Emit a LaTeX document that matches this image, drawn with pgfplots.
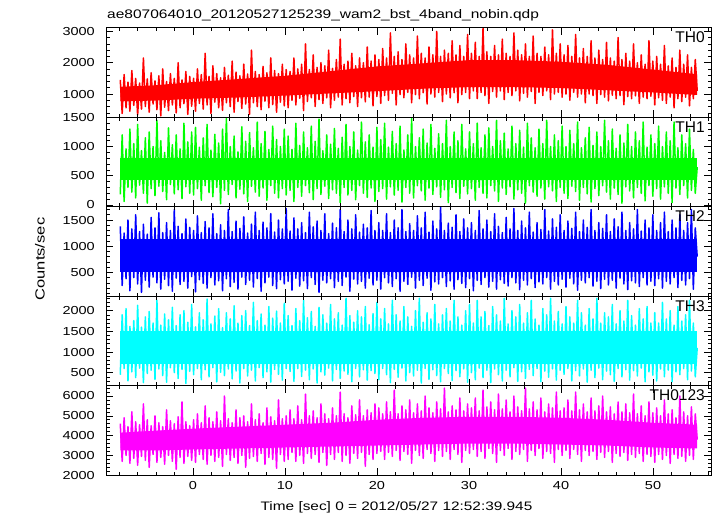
\documentclass[border=0pt]{standalone}
\usepackage{pgfplots}
\usepackage{pgfplotstable}
\pgfplotsset{compat=1.18}
\usepackage{fontspec}
\setmainfont{Liberation Sans}[FakeStretch=1.25]
\newfontfamily\lblfont{Liberation Sans}
\definecolor{cR}{RGB}{255,0,0}
\definecolor{cG}{RGB}{0,255,0}
\definecolor{cB}{RGB}{0,0,255}
\definecolor{cC}{RGB}{0,255,255}
\definecolor{cM}{RGB}{255,0,255}

% light curves (counts/sec), one row per time bin
\pgfplotstableread{
a b c d e
1450 180 1380 450 4600
380 1200 250 1900 2700
1620 60 1250 600 4900
560 960 380 2050 3000
1380 300 1500 300 4450
450 1300 150 1620 2600
1750 220 1330 520 5200
640 1050 400 1760 2850
1500 120 1600 380 4700
330 1380 280 2130 2500
1350 340 1280 610 4550
520 930 120 1600 2950
2150 200 1420 260 5600
600 1150 350 1850 2750
1480 30 1230 480 4800
420 1250 220 1980 2400
1680 280 1550 560 4500
680 1000 410 1700 3050
1420 160 1350 340 5000
500 1450 300 2250 2650
1580 320 1640 590 4650
300 1100 180 1650 2900
1800 230 1260 430 4450
580 900 370 1920 2550
1400 90 1450 270 5300
470 1320 250 1780 3000
1650 350 1300 620 4750
650 1030 140 2080 2700
1500 190 1700 500 4600
400 1200 390 1640 2300
2000 260 1380 360 4950
560 960 270 1900 2900
1450 110 1240 580 5700
690 1400 330 2000 2600
1720 310 1520 240 4700
350 1080 200 1720 2950
1560 200 1360 530 4500
610 1250 420 2150 2750
1500 170 1300 450 4800
450 1330 130 1610 2650
1800 280 1580 600 5100
700 990 360 1950 3050
1620 80 1260 330 4650
520 1150 290 1780 2800
2300 330 1470 570 5500
650 1380 200 2280 2550
1560 210 1350 400 4900
380 940 400 1680 3000
1900 140 1620 620 4700
740 1210 260 1870 2700
1650 300 1240 280 5200
560 1060 340 2050 2900
1520 20 1410 510 4750
480 1300 150 1590 2450
1850 250 1300 430 6000
720 1480 380 1950 3050
1600 180 1700 590 4850
600 1000 230 1800 2750
2050 350 1280 350 4650
420 1180 310 2120 2900
1700 120 1480 540 5300
760 910 180 1700 2600
1580 270 1340 250 4900
540 1340 410 1880 3000
1950 190 1560 600 5000
680 1090 270 2000 2400
1640 60 1250 420 4700
350 1240 350 1640 2850
2400 320 1420 560 5600
720 980 220 2200 2950
1720 220 1650 300 4800
600 1420 380 1760 2700
1620 150 1300 620 5100
500 1050 140 1920 3100
1880 290 1460 380 4650
770 1260 300 1650 2550
1680 80 1350 520 5400
560 950 410 2100 2900
2150 330 1620 270 4950
660 1350 250 1820 2800
1750 200 1270 580 4750
420 1120 190 1990 2350
1650 120 1500 460 5800
740 1000 360 1700 3050
1950 280 1330 320 4850
620 1300 280 2180 2700
1780 170 1720 600 5000
560 1180 330 1880 2800
1720 250 1290 530 5300
800 950 160 1640 3150
2150 60 1540 290 4850
650 1400 390 2050 2700
1800 300 1330 600 5500
860 1020 240 1760 3000
1950 150 1450 410 4800
470 1250 340 2250 2600
2600 330 1260 560 6100
760 980 190 1830 3100
1780 210 1650 330 5000
880 1350 400 1980 2850
2250 90 1370 590 5250
600 1090 270 1620 3050
1850 280 1480 250 4900
820 1470 120 2080 2650
2000 180 1300 520 5600
700 930 350 1900 3150
1900 320 1620 440 5100
880 1200 300 1700 2500
2400 110 1240 610 4850
560 1040 380 2150 3050
1820 260 1440 300 5400
800 1310 210 1800 2800
2100 200 1350 580 5000
900 970 330 1950 3150
2750 40 1700 360 6200
650 1160 250 1650 2700
1950 300 1280 540 5100
850 1380 410 2300 3000
2050 170 1500 460 4900
720 1000 140 1880 2600
2300 250 1330 280 5500
920 1250 370 1720 3100
1900 90 1600 600 5050
600 940 280 2000 2850
2150 330 1270 400 5800
880 1420 330 1850 3150
2000 200 1420 570 5000
750 1080 200 2100 2450
2500 130 1350 320 5300
900 1200 390 1660 3050
2050 290 1680 550 5150
620 990 260 1930 2800
2250 60 1300 480 5600
920 1330 350 2200 3100
2100 230 1450 330 5400
700 1120 180 1800 3200
2450 280 1300 600 5100
950 1400 400 2050 2800
2150 100 1620 450 5700
800 990 300 1680 3150
2950 310 1260 260 5200
1020 1260 230 2250 2950
2200 170 1500 580 6300
650 1050 380 1900 3250
2350 250 1350 390 5100
980 1350 140 1750 2750
2100 50 1700 610 5500
880 940 330 2100 3200
2600 300 1280 300 5300
1050 1200 270 1850 3050
2250 200 1430 500 5800
720 1480 410 1620 2600
2150 120 1300 420 5150
980 1000 200 2000 3250
2850 330 1580 560 5600
850 1150 350 2300 3000
2300 240 1350 250 5250
1040 1300 250 1720 2850
2150 80 1650 600 6000
680 1060 390 1950 3300
2500 290 1270 340 5400
1000 1380 160 1800 3100
2250 180 1480 570 5150
900 970 320 2150 2700
3000 310 1330 430 5700
1050 1220 280 1680 3250
2200 130 1750 280 5350
760 1050 400 1900 2950
2400 260 1300 600 6400
1000 1450 230 2050 3200
2300 40 1440 480 5200
880 1000 340 1750 2800
2700 300 1360 310 5500
1040 1250 180 2250 3300
2250 210 1600 550 5300
720 1100 360 1850 3050
2550 110 1280 400 5900
980 1380 290 1650 2650
2200 320 1520 590 5250
1050 960 210 2000 3250
2900 190 1350 270 5600
850 1250 380 2150 3100
2300 280 1450 500 5400
1100 1050 150 1700 3300
2650 80 1300 330 5900
850 1400 350 2250 2950
2200 300 1680 610 5250
1050 980 270 1850 3200
3100 200 1330 380 6300
950 1200 400 1980 2850
2350 120 1500 560 5450
700 1320 220 1640 3350
2200 330 1280 260 5700
1080 1000 330 2100 3100
2550 240 1620 590 5300
900 1450 180 1900 2650
2250 60 1380 450 6100
1100 1100 360 1750 3250
2750 290 1260 300 5350
820 1230 290 2300 3000
2300 180 1550 560 5800
1050 960 240 1680 3350
2200 310 1330 400 5200
950 1350 400 2000 2800
2950 100 1720 620 6000
1100 1050 300 1850 3200
2400 260 1300 290 5450
780 1280 170 2150 3050
2250 200 1480 520 5250
1020 990 350 1700 3300
2600 30 1350 360 6400
900 1400 260 1950 2700
2200 330 1650 580 5350
1080 1150 380 2250 3250
2850 220 1270 430 5700
700 980 210 1800 3000
2300 150 1450 600 5300
1050 1300 320 1650 3350
2200 290 1320 280 5900
950 1050 280 2050 2850
2500 100 1700 540 5200
1100 1450 400 1900 3200
2250 310 1290 390 5600
820 1000 180 2300 3100
3050 240 1520 590 5400
1000 1200 330 1750 2650
2300 60 1360 320 6200
1050 1100 260 1980 3300
2600 300 1600 560 5250
900 1350 370 1680 3000
2250 200 1300 460 5400
1000 1000 220 2100 3250
2550 110 1480 600 5800
800 1280 390 1850 2850
2200 320 1340 300 5250
1050 1050 280 1700 3300
2900 230 1650 550 6200
900 1420 160 2250 3050
2150 80 1280 420 5300
1000 980 350 1950 2700
2450 300 1500 590 5600
720 1150 300 1650 3250
2200 190 1360 270 5200
1000 1330 400 2050 3000
2700 50 1700 560 5900
950 1020 240 1800 3200
2150 280 1300 380 5250
700 1250 330 2300 2800
2400 160 1450 610 5500
980 1000 190 1700 3150
2100 330 1340 330 6000
900 1450 370 1950 2900
2650 220 1600 540 5200
780 1100 260 1850 3200
2150 100 1280 450 5450
960 1300 350 2150 2650
2050 290 1520 290 5100
850 970 200 1680 3100
2800 180 1370 600 5700
950 1200 390 2000 2950
2100 30 1650 400 5200
660 1060 280 1750 3150
2300 310 1300 570 5600
920 1380 170 2250 2750
2050 240 1450 320 5150
850 1000 340 1880 3050
2600 120 1330 550 6100
940 1250 300 1650 2900
2000 300 1700 420 5100
700 1100 230 2050 3100
2250 200 1290 610 5500
900 1420 400 1800 2700
1950 70 1500 280 5000
850 990 260 2100 3050
2700 330 1350 520 5700
930 1200 330 1700 2950
2050 150 1600 440 5150
650 1050 250 1950 2650
2200 280 1300 300 5400
880 1350 380 1700 3050
1950 100 1450 590 5000
800 1000 200 2200 2800
2550 310 1650 400 5800
700 1250 330 1800 3000
1900 200 1280 560 5100
900 1100 280 2000 2600
2150 40 1500 280 5300
560 1420 400 1650 3050
1850 290 1350 520 4900
850 980 210 2100 2850
2400 180 1600 450 6000
760 1200 350 1750 2950
1950 330 1300 600 5200
900 1050 260 1900 2700
2250 120 1450 330 5000
620 1300 380 2250 3000
1850 250 1700 540 5450
850 950 180 1700 2800
2100 200 1350 400 5100
1100 650 800 1100 3800
}\data

\pgfplotsset{
  panel/.style={
    scale only axis, width=605pt, height=89.5pt,
    anchor=north west,
    xmin=-9.45, xmax=56.3,
    xtick={0,10,...,50},
    minor xtick={-8,-6,...,56},
    tick align=inside, xtick pos=both, ytick pos=both,
    major tick length=7pt, minor tick length=3.5pt,
    tick style={black, line width=0.6pt},
    axis line style={black, line width=0.8pt},
    axis on top,
    ticklabel style={font=\fontsize{11.6}{13}\selectfont},
    /pgf/number format/assume math mode=true,
    /pgf/number format/1000 sep={},
    scaled y ticks=false,
    scaled x ticks=false,
    yticklabel style={xshift=-7.7pt},
    xticklabel style={yshift=-3pt},
  },
  nolab/.style={xticklabels={}},
  ser/.style={line width=1.5pt, line join=round, mark=none},
  band/.style={draw=none, mark=none, forget plot},
}

\newcommand{\panellabel}[1]{\node[anchor=north east, inner sep=0pt, font=\lblfont\fontsize{15.5}{17}\selectfont] at (rel axis cs:0.99,0.955) {#1};}

\begin{document}
\begin{tikzpicture}[x=1pt,y=1pt]
\useasboundingbox (0,0) rectangle (717,-516);

\begin{axis}[panel, nolab, at={(106pt,-27.7pt)}, ymin=260, ymax=3116,
  ytick={1000,2000,3000}, minor ytick={400,600,...,3000}]
\addplot[band, fill=cR] coordinates {(-7.9,1230) (-4,1280) (0,1380) (5,1480) (10,1580) (15,1730) (20,1880) (25,1980) (30,2080) (35,2080) (40,2030) (45,1930) (50,1780) (54.8,1630) (54.8,970) (50,1050) (45,1120) (40,1190) (35,1220) (30,1220) (25,1170) (20,1090) (15,1020) (10,950) (5,890) (0,850) (-4,790) (-7.9,770)} -- cycle;
\addplot[ser, cR] table[x expr=\coordindex*0.2097-7.9, y=a] {\data};
\panellabel{TH0}
\end{axis}

\begin{axis}[panel, nolab, at={(106pt,-117.2pt)}, ymin=-30, ymax=1503,
  ytick={0,500,1000,1500}, minor ytick={100,200,...,1500}]
\addplot[band, fill=cG] coordinates {(-7.9,810) (54.8,810) (54.8,430) (-7.9,430)} -- cycle;
\addplot[ser, cG] table[x expr=\coordindex*0.2097-7.9, y=b] {\data};
\panellabel{TH1}
\end{axis}

\begin{axis}[panel, nolab, at={(106pt,-206.7pt)}, ymin=46, ymax=1754,
  ytick={500,1000,1500}, minor ytick={100,200,...,1700}]
\addplot[band, fill=cB] coordinates {(-7.9,1130) (54.8,1130) (54.8,500) (-7.9,500)} -- cycle;
\addplot[ser, cB] table[x expr=\coordindex*0.2097-7.9, y=c] {\data};
\panellabel{TH2}
\end{axis}

\begin{axis}[panel, nolab, at={(106pt,-296.2pt)}, ymin=185, ymax=2350,
  ytick={500,1000,1500,2000}, minor ytick={200,300,...,2300}]
\addplot[band, fill=cC] coordinates {(-7.9,1500) (54.8,1500) (54.8,720) (-7.9,720)} -- cycle;
\addplot[ser, cC] table[x expr=\coordindex*0.2097-7.9, y=d] {\data};
\panellabel{TH3}
\end{axis}

\begin{axis}[panel, at={(106pt,-385.7pt)}, ymin=2000, ymax=6520,
  ytick={2000,3000,4000,5000,6000}, minor ytick={2200,2400,...,6400}]
\addplot[band, fill=cM] coordinates {(-7.9,4150) (-4,4250) (0,4350) (5,4450) (10,4550) (15,4650) (20,4800) (25,4900) (30,4950) (35,4950) (40,4900) (45,4800) (50,4650) (54.8,4550) (54.8,3350) (50,3400) (45,3500) (40,3550) (35,3600) (30,3600) (25,3550) (20,3500) (15,3450) (10,3400) (5,3350) (0,3300) (-4,3250) (-7.9,3250)} -- cycle;
\addplot[ser, cM] table[x expr=\coordindex*0.2097-7.9, y=e] {\data};
\panellabel{TH0123}
\end{axis}

\node[anchor=base west, inner sep=0pt, font=\fontsize{12.4}{14}\selectfont] at (107,-19) {ae807064010\_20120527125239\_wam2\_bst\_4band\_nobin.qdp};
\node[rotate=90, inner sep=0pt, font=\fontsize{13.2}{15}\selectfont] at (40,-259) {Counts/sec};
\node[anchor=base, inner sep=0pt, font=\fontsize{12.3}{14}\selectfont] at (396.5,-510) {Time [sec] 0 = 2012/05/27 12:52:39.945};
\end{tikzpicture}
\end{document}
